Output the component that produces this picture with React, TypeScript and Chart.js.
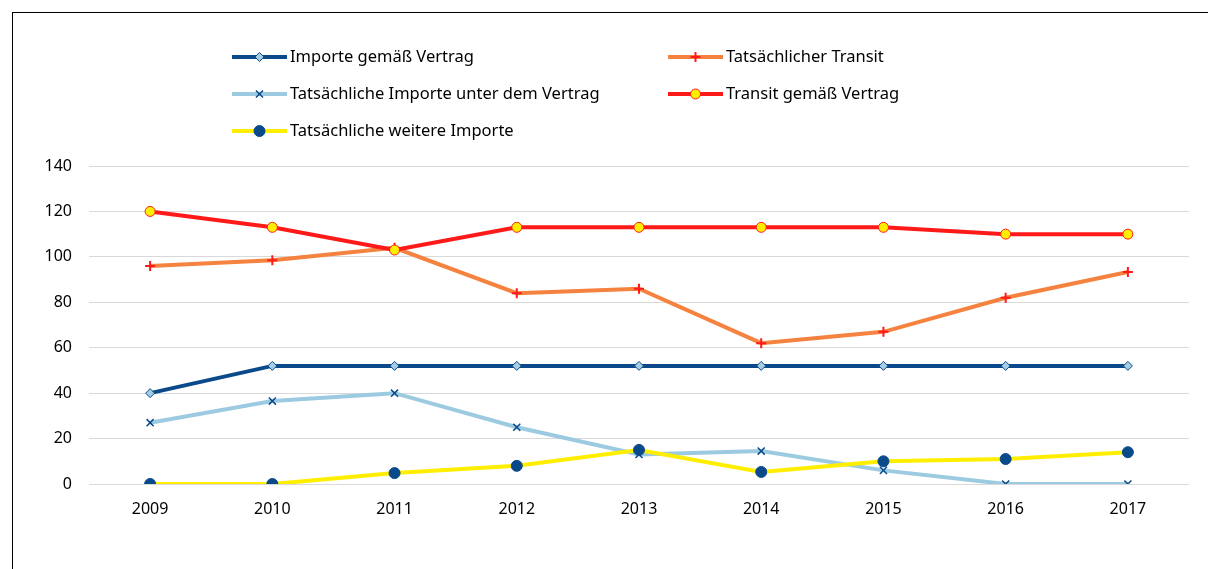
import React, { useEffect, useRef } from "react";
import { Chart, registerables } from "chart.js";
import { drawPoint } from "chart.js/helpers";

Chart.register(...registerables);

const years = ["2009", "2010", "2011", "2012", "2013", "2014", "2015", "2016", "2017"];
const importeGemaessVertrag = [40, 52, 52, 52, 52, 52, 52, 52, 52];
const tatsaechlicherTransit = [96, 98.5, 104, 84, 86, 62, 67, 82, 93.3];
const tatsaechlicheImporteVertrag = [27, 36.5, 40, 25, 13, 14.5, 6, 0, 0];
const transitGemaessVertrag = [120, 113, 103, 113, 113, 113, 113, 110, 110];
const tatsaechlicheWeitereImporte = [0, 0, 4.8, 8, 15, 5.3, 10, 11, 14];

const FONT = "'Noto Sans', sans-serif";

const legendPlugin = {
  id: "customLegend",
  afterDraw(chart: any) {
    const ctx = chart.ctx;
    const cols = [232, 668];
    const rows = [57, 94, 131];
    chart.data.datasets.forEach((ds: any, i: number) => {
      const x = cols[i % 2];
      const y = rows[Math.floor(i / 2)];
      ctx.save();
      ctx.strokeStyle = ds.borderColor;
      ctx.lineWidth = ds.borderWidth;
      ctx.beginPath();
      ctx.moveTo(x, y);
      ctx.lineTo(x + 55, y);
      ctx.stroke();
      ctx.fillStyle = ds.pointBackgroundColor;
      ctx.strokeStyle = ds.pointBorderColor;
      ctx.lineWidth = ds.pointBorderWidth;
      drawPoint(ctx, { pointStyle: ds.pointStyle, radius: ds.pointRadius, rotation: 0, borderWidth: ds.pointBorderWidth }, x + 27.5, y);
      ctx.fillStyle = "#000";
      ctx.font = "16.5px " + FONT;
      ctx.textBaseline = "middle";
      ctx.textAlign = "left";
      ctx.fillText(ds.label, x + 58, y);
      ctx.restore();
    });
  },
};

export default function App() {
  const ref = useRef<HTMLCanvasElement | null>(null);
  useEffect(() => {
    if (!ref.current) return;
    const chart = new Chart(ref.current, {
      type: "line",
      data: {
        labels: years,
        datasets: [
          {
            label: "Importe gemäß Vertrag",
            data: importeGemaessVertrag,
            borderColor: "#0a4a8a",
            borderWidth: 4,
            pointStyle: "rectRot",
            pointRadius: 4.5,
            pointBackgroundColor: "#a6cde3",
            pointBorderColor: "#0a4a8a",
            pointBorderWidth: 1,
            order: 5,
          },
          {
            label: "Tatsächlicher Transit",
            data: tatsaechlicherTransit,
            borderColor: "#f5823f",
            borderWidth: 4,
            pointStyle: "cross",
            pointRadius: 5,
            pointBackgroundColor: "#ff1a1a",
            pointBorderColor: "#ff1a1a",
            pointBorderWidth: 2,
            order: 4,
          },
          {
            label: "Tatsächliche Importe unter dem Vertrag",
            data: tatsaechlicheImporteVertrag,
            borderColor: "#9ccbe1",
            borderWidth: 4,
            pointStyle: "crossRot",
            pointRadius: 5,
            pointBackgroundColor: "#0a4a8a",
            pointBorderColor: "#0a4a8a",
            pointBorderWidth: 1.5,
            order: 3,
          },
          {
            label: "Transit gemäß Vertrag",
            data: transitGemaessVertrag,
            borderColor: "#ff1a1a",
            borderWidth: 4,
            pointStyle: "circle",
            pointRadius: 5,
            pointBackgroundColor: "#ffee00",
            pointBorderColor: "#ff1a1a",
            pointBorderWidth: 1,
            order: 2,
          },
          {
            label: "Tatsächliche weitere Importe",
            data: tatsaechlicheWeitereImporte,
            borderColor: "#ffee00",
            borderWidth: 4,
            pointStyle: "circle",
            pointRadius: 5.5,
            pointBackgroundColor: "#0a4a8a",
            pointBorderColor: "#0a4a8a",
            pointBorderWidth: 1,
            order: 1,
          },
        ],
      },
      options: {
        responsive: false,
        animation: false,
        layout: { padding: { left: 0, top: 166, right: 19, bottom: 0 } },
        plugins: {
          legend: { display: false },
          tooltip: { enabled: false },
        },
        scales: {
          x: {
            offset: true,
            grid: { display: false, drawTicks: false },
            border: { display: false },
            ticks: { color: "#000", font: { family: FONT, size: 16 }, padding: 16 },
            afterFit: (s: any) => { s.height = 85; },
          },
          y: {
            min: 0,
            max: 140,
            ticks: { stepSize: 20, color: "#000", font: { family: FONT, size: 16 }, padding: 17 },
            grid: { color: "#d9d9d9", lineWidth: 1, drawTicks: false },
            border: { display: false },
            afterFit: (s: any) => { s.width = 89; },
          },
        },
      },
      plugins: [legendPlugin],
    });
    return () => chart.destroy();
  }, []);
  return (
    <div style={{ position: "fixed", left: 0, top: 0, width: 1208, height: 569, background: "#fff" }}>
      <canvas ref={ref} width={1208} height={569} style={{ position: "absolute", left: 0, top: 0 }} />
      <div style={{ position: "absolute", left: 12, top: 12, right: 0, bottom: 0, borderLeft: "1px solid #000", borderTop: "1px solid #000", pointerEvents: "none" }} />
    </div>
  );
}
